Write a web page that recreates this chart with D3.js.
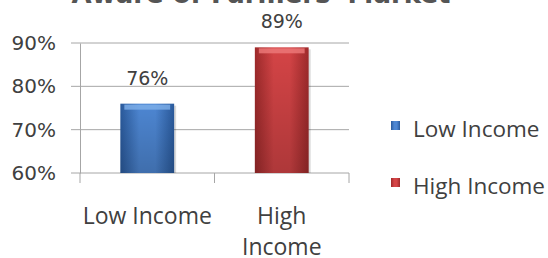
<!DOCTYPE html>
<html lang="en">
  <head>
    <meta charset="utf-8">
    <script src="https://d3js.org/d3.v7.min.js"></script>
    <style>
      body { margin: 0; background: #fff; }
    </style>
  </head>
  <body>
    <svg id="chart"></svg>
    <script>
      // values
      var categories = ["Low Income", "High Income"];
      var values = [76, 89];
      var labels = ["76%", "89%"];
      var yTicks = [60, 70, 80, 90];
      var title = "Aware of Farmers' Market";
      var barColors = [
        { dark: "#2a5a9c", mid: "#4d86d2", light: "#7fb0ea" },
        { dark: "#9e2a2b", mid: "#d44446", light: "#ee7b7b" }
      ];

      var width = 548, height = 258;
      var plotLeft = 80, plotRight = 349, plotTop = 43, plotBottom = 173;

      var svg = d3.select("#chart")
        .attr("width", width)
        .attr("height", height);

      var defs = svg.append("defs");
      barColors.forEach(function(c, i) {
        var g = defs.append("linearGradient").attr("id", "bar" + i)
          .attr("x1", 0).attr("x2", 1).attr("y1", 0).attr("y2", 0);
        g.append("stop").attr("offset", "0%").attr("stop-color", c.dark);
        g.append("stop").attr("offset", "35%").attr("stop-color", c.mid);
        g.append("stop").attr("offset", "65%").attr("stop-color", c.mid);
        g.append("stop").attr("offset", "100%").attr("stop-color", c.dark);
        var v = defs.append("linearGradient").attr("id", "shade" + i)
          .attr("x1", 0).attr("x2", 0).attr("y1", 0).attr("y2", 1);
        v.append("stop").attr("offset", "0%").attr("stop-color", "#000").attr("stop-opacity", 0);
        v.append("stop").attr("offset", "100%").attr("stop-color", "#000").attr("stop-opacity", 0.18);
      });

      var x = d3.scaleBand()
        .domain(categories)
        .range([plotLeft, plotRight])
        .paddingInner(0.6)
        .paddingOuter(0.3);

      var y = d3.scaleLinear()
        .domain([60, 90])
        .range([plotBottom, plotTop]);

      // title, mostly off the top of the picture
      svg.append("text")
        .attr("x", 261)
        .attr("y", 3)
        .attr("text-anchor", "middle")
        .attr("font-family", "DejaVu Sans")
        .attr("font-weight", "bold")
        .attr("font-size", 26)
        .attr("fill", "#555")
        .text(title);

      // gridlines
      svg.append("g")
        .selectAll("line")
        .data(yTicks)
        .enter()
        .append("line")
        .attr("x1", plotLeft - 9)
        .attr("x2", plotRight)
        .attr("y1", function(d) { return y(d); })
        .attr("y2", function(d) { return y(d); })
        .attr("stroke", "#a6a6a6")
        .attr("stroke-width", 1);

      // y axis
      var yAxis = d3.axisLeft(y)
        .tickValues(yTicks)
        .tickSize(0)
        .tickPadding(24)
        .tickFormat(function(d) { return d + "%"; });
      var gy = svg.append("g")
        .attr("transform", "translate(" + plotLeft + ",0)")
        .call(yAxis);
      gy.select(".domain").attr("stroke", "#a6a6a6");
      gy.selectAll("text")
        .attr("font-family", "DejaVu Sans")
        .attr("font-size", 20)
        .attr("fill", "#404040");

      // x axis ticks at band edges
      var edges = [plotLeft, (plotLeft + plotRight) / 2, plotRight];
      svg.append("g")
        .selectAll("line")
        .data(edges)
        .enter()
        .append("line")
        .attr("x1", function(d) { return d; })
        .attr("x2", function(d) { return d; })
        .attr("y1", plotBottom)
        .attr("y2", plotBottom + 10)
        .attr("stroke", "#a6a6a6");

      // bars
      var bars = svg.append("g")
        .selectAll("g")
        .data(values)
        .enter()
        .append("g");
      bars.append("rect")
        .attr("x", function(d, i) { return x(categories[i]) + 2; })
        .attr("y", function(d) { return y(d) + 2; })
        .attr("width", x.bandwidth())
        .attr("height", function(d) { return plotBottom - y(d) - 2; })
        .attr("fill", "#000")
        .attr("opacity", 0.15);
      bars.append("rect")
        .attr("x", function(d, i) { return x(categories[i]); })
        .attr("y", function(d) { return y(d); })
        .attr("width", x.bandwidth())
        .attr("height", function(d) { return plotBottom - y(d); })
        .attr("fill", function(d, i) { return "url(#bar" + i + ")"; });
      bars.append("rect")
        .attr("x", function(d, i) { return x(categories[i]); })
        .attr("y", function(d) { return y(d); })
        .attr("width", x.bandwidth())
        .attr("height", function(d) { return plotBottom - y(d); })
        .attr("fill", function(d, i) { return "url(#shade" + i + ")"; });
      bars.append("rect")
        .attr("x", function(d, i) { return x(categories[i]) + 4; })
        .attr("y", function(d) { return y(d) + 1; })
        .attr("width", x.bandwidth() - 8)
        .attr("height", 5)
        .attr("fill", function(d, i) { return barColors[i].light; })
        .attr("opacity", 0.8);

      // value labels
      svg.append("g")
        .selectAll("text")
        .data(values)
        .enter()
        .append("text")
        .attr("x", function(d, i) { return x(categories[i]) + x.bandwidth() / 2; })
        .attr("y", function(d) { return y(d) - 19; })
        .attr("text-anchor", "middle")
        .attr("font-family", "DejaVu Sans")
        .attr("font-size", 19)
        .attr("fill", "#404040")
        .text(function(d, i) { return labels[i]; });

      // category labels, wrapped like the original
      var catLines = [["Low Income"], ["High", "Income"]];
      svg.append("g")
        .selectAll("text")
        .data(categories)
        .enter()
        .append("text")
        .attr("x", function(d) { return x(d) + x.bandwidth() / 2; })
        .attr("y", 224)
        .attr("text-anchor", "middle")
        .attr("font-family", "Open Sans")
        .attr("font-size", 23)
        .attr("fill", "#404040")
        .each(function(d, i) {
          var t = d3.select(this);
          catLines[i].forEach(function(line, j) {
            t.append("tspan")
              .attr("x", x(d) + x.bandwidth() / 2)
              .attr("dy", j === 0 ? 0 : 31)
              .text(line);
          });
        });

      // legend
      var legend = svg.append("g")
        .selectAll("g")
        .data(categories)
        .enter()
        .append("g")
        .attr("transform", function(d, i) { return "translate(391," + (121 + i * 57) + ")"; });
      legend.append("rect")
        .attr("width", 9)
        .attr("height", 9)
        .attr("fill", function(d, i) { return "url(#bar" + i + ")"; });
      legend.append("text")
        .attr("x", 22)
        .attr("y", 16)
        .attr("font-family", "Open Sans")
        .attr("font-size", 22.5)
        .attr("fill", "#404040")
        .text(function(d) { return d; });
    </script>
  </body>
</html>
